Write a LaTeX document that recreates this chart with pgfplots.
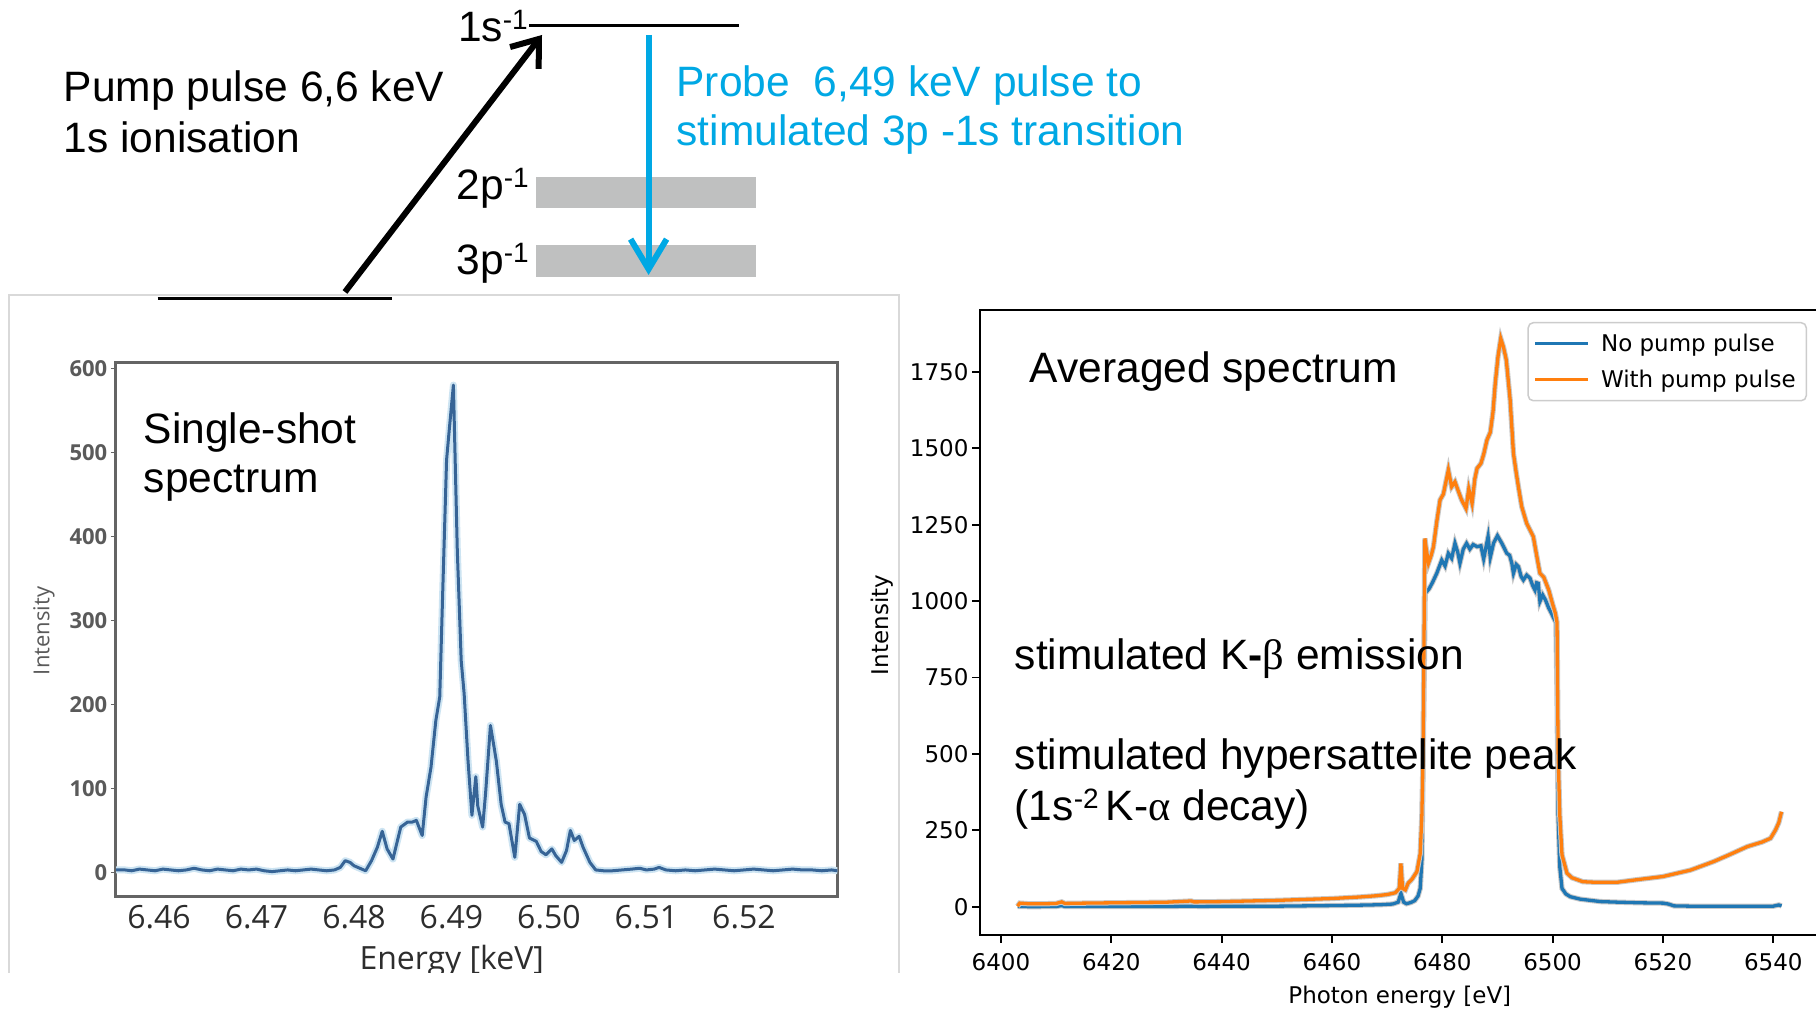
\documentclass[border=0pt]{standalone}
\usepackage{fontspec}
\setmainfont{Liberation Sans}
\newfontfamily\dejavu{DejaVu Sans}
\newfontfamily\opensans{Open Sans}
\newfontfamily\greekserif{Liberation Serif}
\usepackage{pgfplots}
\usepackage{pgfplotstable}
\pgfplotsset{compat=1.18}
\usetikzlibrary{arrows.meta}
\definecolor{probeblue}{RGB}{0,168,228}
\definecolor{bargray}{RGB}{191,192,192}
\definecolor{tabblue}{RGB}{31,119,180}
\definecolor{taborange}{RGB}{255,127,14}
\definecolor{ssblue}{RGB}{55,100,150}
\definecolor{sshalo}{RGB}{205,228,242}
\definecolor{framegray}{RGB}{100,100,100}
\definecolor{ticktext}{RGB}{45,45,45}
\definecolor{ytext}{RGB}{90,90,90}
\definecolor{halogray}{RGB}{200,200,200}
\newcommand{\Lg}{\fontsize{42.5}{51}\selectfont}
\newcommand{\supr}[1]{\raisebox{12pt}{\fontsize{28}{28}\selectfont #1}}

\pgfplotstableread{
x y
6.4556 3
6.4565 3
6.4572 2
6.4580 4
6.4588 3
6.4596 2
6.4604 4
6.4612 3
6.4620 2
6.4628 3
6.4636 5
6.4644 3
6.4652 2
6.4660 4
6.4668 3
6.4676 2
6.4684 4
6.4692 3
6.4700 4
6.4708 2
6.4716 1
6.4724 2
6.4732 3
6.4740 2
6.4748 3
6.4756 4
6.4764 3
6.4772 2
6.4780 3
6.4786 6
6.4791 14
6.4796 12
6.4800 8
6.4806 5
6.4812 2
6.4818 14
6.4824 30
6.4829 49
6.4834 28
6.4840 16
6.4848 54
6.4855 60
6.4860 60
6.4864 62
6.4870 44
6.4874 90
6.4879 125
6.4884 181
6.4888 209
6.4891 332
6.4895 491
6.4898 530
6.4902 580
6.4906 383
6.4910 252
6.4913 213
6.4917 133
6.4921 68
6.4925 114
6.4927 79
6.4932 54
6.4935 94
6.4940 175
6.4946 133
6.4951 81
6.4955 60
6.4959 58
6.4965 18
6.4970 81
6.4975 69
6.4980 41
6.4987 37
6.4992 25
6.4997 21
6.5003 28
6.5007 20
6.5013 12
6.5018 26
6.5022 50
6.5026 38
6.5031 43
6.5035 30
6.5042 12
6.5048 3
6.5056 2
6.5065 2
6.5075 3
6.5085 4
6.5093 5
6.5100 3
6.5108 4
6.5113 6
6.5120 3
6.5130 2
6.5140 3
6.5150 2
6.5160 3
6.5170 4
6.5180 3
6.5190 2
6.5200 3
6.5210 4
6.5220 3
6.5230 2
6.5240 3
6.5250 4
6.5260 3
6.5270 3
6.5280 2
6.5290 3
6.5296 2
}\singleshot

\pgfplotstableread{
x y
6403.0 1
6404 1
6406 0
6408 1
6410 1
6411 4
6411.6 1
6415 1
6420 1
6425 1
6430 1
6435 2
6436 1
6440 2
6445 2
6450 2
6455 3
6460 4
6464 5
6467 6
6469 7
6471 9
6472 15
6472.5 44
6473 15
6473.5 10
6474.3 14
6475 20
6475.6 35
6476 60
6476.3 153
6476.6 589
6476.9 1025
6477.6 1040
6478.2 1060
6479.0 1091
6479.9 1134
6480.5 1115
6481.1 1156
6481.7 1140
6482.3 1189
6482.8 1160
6483.2 1124
6483.8 1170
6484.4 1189
6485.0 1170
6485.6 1185
6486.3 1178
6487.0 1181
6487.5 1138
6488.3 1211
6488.7 1143
6489.3 1190
6490.0 1214
6490.8 1189
6491.7 1156
6492.2 1150
6492.6 1124
6492.9 1091
6493.4 1120
6493.8 1113
6494.3 1080
6494.7 1069
6495.3 1085
6495.9 1075
6496.4 1050
6496.8 1036
6497.1 1060
6497.4 1058
6497.7 999
6498.2 1020
6498.7 1004
6499.3 977
6499.8 960
6500.2 944
6500.6 930
6500.8 700
6501.0 300
6501.3 130
6501.7 60
6502.4 42
6503.2 33
6505 25
6508.7 17
6512 15
6516 13
6520 12
6521 9
6522 3
6525 2
6530 2
6535 2
6540 2
6541 6
6541.5 3
}\nopump

\pgfplotstableread{
x y
6403.0 2
6403.4 12
6405 10
6408 10
6410 11
6411 16
6411.6 11
6415 12
6420 13
6425 14
6430 15
6434.5 19
6435 16
6440 17
6445 19
6450 21
6455 24
6460 27
6465 32
6468 36
6470 40
6471.5 46
6472.2 60
6472.5 142
6472.8 60
6473.3 55
6473.8 77
6474.5 90
6475.4 115
6476 174
6476.3 300
6476.5 480
6476.7 900
6476.85 1205
6477.1 1170
6477.5 1124
6478.0 1150
6478.4 1178
6479.0 1260
6479.6 1331
6480.2 1350
6480.6 1385
6481.1 1429
6481.7 1374
6482.3 1390
6482.9 1360
6483.5 1331
6484.3 1303
6484.8 1367
6485.4 1320
6485.9 1400
6486.3 1434
6487.0 1450
6487.5 1480
6488.1 1527
6488.7 1552
6489.2 1620
6489.6 1712
6490.1 1800
6490.6 1859
6491.1 1830
6491.6 1789
6492.3 1658
6492.9 1483
6493.4 1420
6493.8 1374
6494.4 1309
6495.3 1254
6496.5 1211
6497.1 1150
6497.7 1091
6498.4 1078
6499.3 1036
6500.0 990
6500.5 960
6500.8 930
6501.0 500
6501.3 300
6501.7 170
6502.6 110
6503.5 95
6505.5 82
6508 80
6511.6 80
6515 88
6520 99
6525 120
6529.2 148
6532 170
6535.3 197
6538 212
6539.5 224
6540.4 251
6541 275
6541.5 311
}\withpump

\begin{document}
\begin{tikzpicture}[x=1pt,y=1pt]
\useasboundingbox (0,0) rectangle (1816,1011);
\fill[white] (0,0) rectangle (1816,1011);

% faint panel border of the left screenshot
\draw[black!15, line width=1.2pt] (9,38) -- (9,716) -- (899,716) -- (899,38);

% energy level diagram
\fill[bargray] (536,802.5) rectangle (756,834);
\fill[bargray] (536,734) rectangle (756,765.5);
\draw[line width=2.5pt] (529,985.5) -- (739,985.5);
\draw[line width=3pt] (157.5,712.2) -- (391.5,712.2);
\draw[line width=6pt, -{Straight Barb[length=24pt,width=36pt]}] (345,719) -- (542,976);
\draw[probeblue, line width=6pt, -{Straight Barb[length=30pt,width=36pt]}] (648.6,976) -- (648.6,736);

\node[anchor=base west, inner sep=0] at (63.7,909) {\Lg Pump pulse 6,6 keV};
\node[anchor=base west, inner sep=0] at (63.7,858) {\Lg 1s ionisation};
\node[anchor=base west, inner sep=0, text=probeblue] at (676.4,914.5) {\Lg Probe\ \ 6,49 keV pulse to};
\node[anchor=base west, inner sep=0, text=probeblue] at (676.4,865) {\Lg stimulated 3p -1s transition};
\node[anchor=base east, inner sep=0] at (528,969.3) {\Lg 1s\supr{-1}};
\node[anchor=base east, inner sep=0] at (529,811.5) {\Lg 2p\supr{-1}};
\node[anchor=base east, inner sep=0] at (529,736) {\Lg 3p\supr{-1}};

% left: single-shot spectrum
\begin{axis}[
  at={(115.8pt,114.5pt)}, anchor=south west, scale only axis,
  width=721.6pt, height=534pt,
  xmin=6.45557, xmax=6.52959, ymin=-28.6, ymax=606.9,
  axis line style={framegray, line width=3pt},
  xtick={6.46,6.47,6.48,6.49,6.50,6.51,6.52},
  xticklabels={6.46,6.47,6.48,6.49,6.50,6.51,6.52},
  ytick={0,100,200,300,400,500,600},
  tick pos=left,
  tick align=outside, major tick length=5pt,
  xtick style={draw=none},
  ytick style={framegray, line width=1.5pt},
  xticklabel style={font=\opensans\fontsize{32}{32}\selectfont, text=ticktext},
  yticklabel style={font=\opensans\bfseries\fontsize{22}{22}\selectfont, text=ytext},
  /pgf/number format/assume math mode=true,
]
\addplot[sshalo, line width=7pt, line join=round] table {\singleshot};
\addplot[ssblue, line width=3pt, line join=round] table {\singleshot};
\end{axis}

% right: averaged spectrum
\begin{axis}[
  at={(980pt,76.2pt)}, anchor=south west, scale only axis,
  width=839.6pt, height=624.8pt,
  xmin=6396.2, xmax=6548.4, ymin=-91.6, ymax=1952.2,
  axis line style={black, line width=1.8pt},
  xtick={6400,6420,6440,6460,6480,6500,6520,6540},
  ytick={0,250,500,750,1000,1250,1500,1750},
  tick pos=left,
  tick align=outside, major tick length=8pt,
  tick style={black, line width=1.8pt},
  ticklabel style={font=\dejavu\fontsize{23}{23}\selectfont},
  xticklabel shift=7pt,
  /pgf/number format/assume math mode=true,
  /pgf/number format/1000 sep={},
  legend cell align=left,
  legend style={at={(0.985,0.9808)}, anchor=north east,
    draw={rgb,255:red,204;green,204;blue,204}, line width=1.5pt,
    rounded corners=5pt, fill=white,
    font=\dejavu\fontsize{23}{23}\selectfont,
    inner xsep=5.5pt, inner ysep=3pt, row sep=0pt,
    nodes={inner xsep=5pt, inner ysep=8.5pt},
    /tikz/every odd column/.append style={column sep=6pt}},
  legend image code/.code={\draw[#1, line width=3.3pt] (0pt,0pt) -- (53pt,0pt);},
]
\addplot[halogray, line width=5.3pt, forget plot] table {\nopump};
\addplot[tabblue, line width=3.3pt] table {\nopump};
\addlegendentry{No pump pulse}
\addplot[halogray, line width=5.3pt, forget plot] table {\withpump};
\addplot[taborange, line width=3.3pt] table {\withpump};
\addlegendentry{With pump pulse}
\end{axis}

% axis labels
\node[font=\dejavu\fontsize{23}{23}\selectfont] at (1399.8,14) {Photon energy [eV]};
\node[rotate=90, font=\dejavu\fontsize{23}{23}\selectfont] at (882.6,386) {Intensity};
\node[rotate=90, font=\opensans\fontsize{22}{22}\selectfont, text=ytext] at (44,380) {Intensity};
\node[anchor=base, inner sep=0, font=\opensans\fontsize{32}{32}\selectfont, text=ticktext] at (451.7,41) {Energy [keV]};
\fill[white] (0,0) rectangle (905,38);

% annotations
\node[anchor=base west, inner sep=0] at (143.6,567) {\Lg Single-shot};
\node[anchor=base west, inner sep=0] at (143.6,518.5) {\Lg spectrum};
\node[anchor=base west, inner sep=0] at (1029.6,628.5) {\Lg Averaged spectrum};
\node[anchor=base west, inner sep=0] at (1014.6,341) {\Lg stimulated K\textbf{-}{\greekserif β} emission};
\node[anchor=base west, inner sep=0] at (1014.6,241) {\Lg stimulated hypersattelite peak};
\node[anchor=base west, inner sep=0] at (1014.6,190) {\Lg (1s\supr{-2}\,K-{\greekserif α} decay)};
\end{tikzpicture}
\end{document}
